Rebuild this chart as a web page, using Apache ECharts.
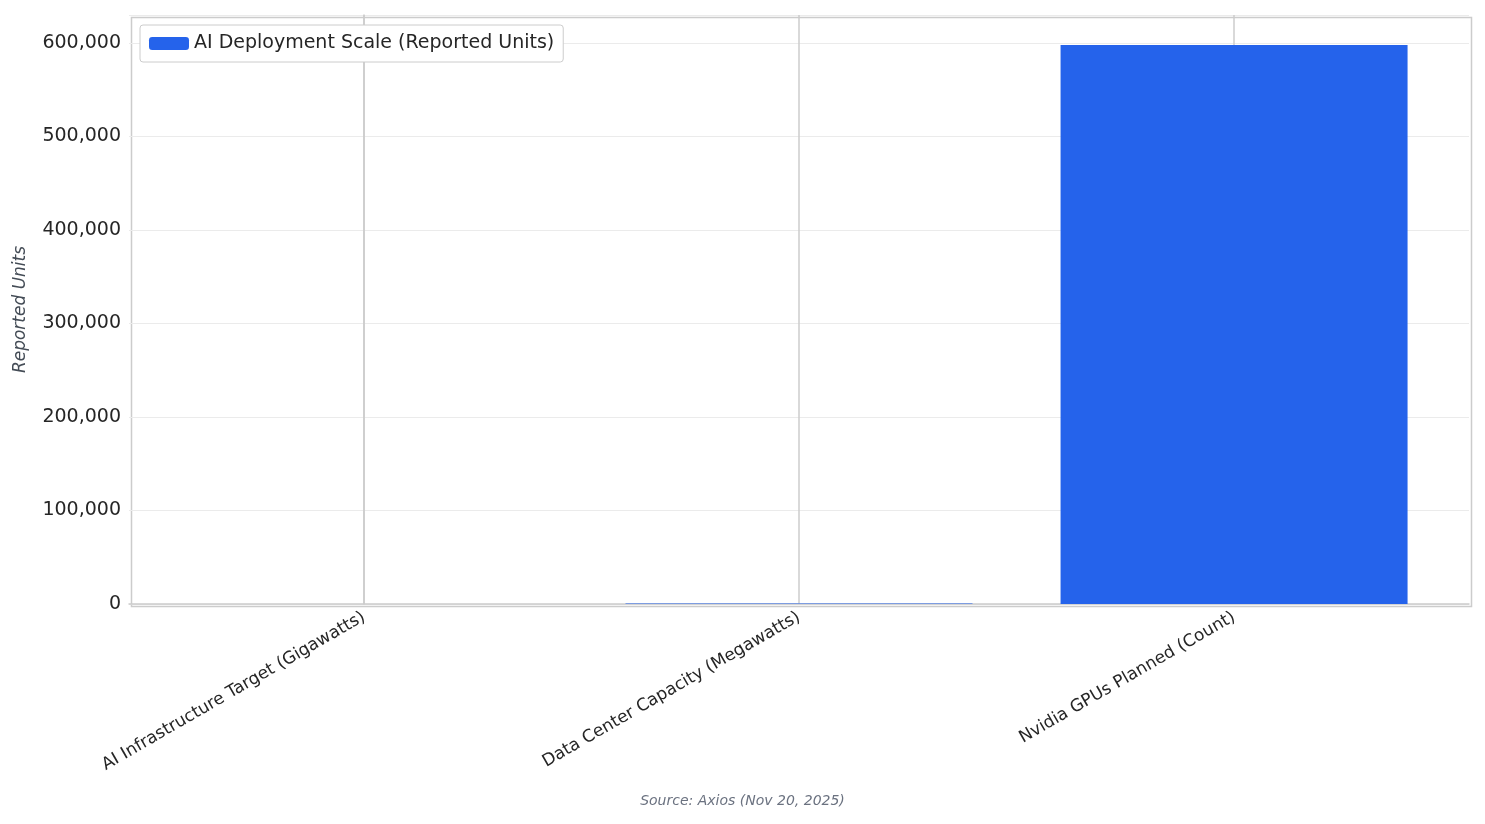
<!DOCTYPE html>
<html><head><meta charset="utf-8">
<script src="https://cdn.jsdelivr.net/npm/echarts@6/dist/echarts.min.js"></script>
<style>html,body{margin:0;padding:0;background:#fff}#c{width:1485px;height:824px}</style>
</head><body><div id="c"></div>
<script>
const categories = ["AI Infrastructure Target (Gigawatts)", "Data Center Capacity (Megawatts)", "Nvidia GPUs Planned (Count)"];
const values = [10, 500, 598000];
const yTicks = [0, 100000, 200000, 300000, 400000, 500000, 600000];

const chart = echarts.init(document.getElementById('c'));
const font = 'DejaVu Sans';
chart.setOption({
  animation: false,
  textStyle: { fontFamily: font },
  grid: { left: 129, right: 16, top: 15, bottom: 220, containLabel: false },
  legend: {
    left: 140, top: 25, itemWidth: 40, itemHeight: 13, padding: [9, 9, 9, 9],
    borderColor: '#cccccc', borderWidth: 1, borderRadius: 3, backgroundColor: '#fff',
    textStyle: { fontSize: 19, color: '#262626', fontFamily: font },
    data: ['AI Deployment Scale (Reported Units)']
  },
  xAxis: {
    type: 'value', min: -0.54, max: 2.54,
    axisLine: { show: true, onZero: false, lineStyle: { color: '#cccccc', width: 1.5 } },
    axisTick: { show: false },
    splitLine: { show: false },
    axisLabel: {
      customValues: [0, 1, 2], rotate: 30, fontSize: 17, color: '#262626', margin: 12,
      formatter: v => categories[Math.round(v)]
    }
  },
  yAxis: {
    type: 'value', min: 0, max: 630000, interval: 100000,
    name: 'Reported Units', nameLocation: 'middle', nameGap: 100, nameRotate: 90,
    nameTextStyle: { fontStyle: 'italic', fontSize: 17, color: '#444c56' },
    axisLine: { show: true, lineStyle: { color: '#cccccc', width: 1.5 } },
    axisTick: { show: false },
    axisLabel: { fontSize: 19, color: '#262626', margin: 8, showMaxLabel: false },
    splitLine: { lineStyle: { color: '#ebebeb', width: 1 } }
  },
  series: [{
    name: 'AI Deployment Scale (Reported Units)', type: 'bar',
    data: values.map((v, i) => [i, v]), barWidth: 347,
    itemStyle: { color: '#2563eb' },
    markLine: {
      silent: true, symbol: 'none', label: { show: false }, z: 1,
      lineStyle: { color: '#cccccc', type: 'solid', width: 1.5 },
      data: [{ xAxis: 0 }, { xAxis: 1 }, { xAxis: 2 }]
    }
  }],
  graphic: [
    { type: 'rect', left: 129, top: 15, shape: { width: 1340, height: 589 }, style: { fill: 'none', stroke: '#cccccc', lineWidth: 1.5 }, silent: true },
    { type: 'text', left: 'center', top: 794, style: { text: 'Source: Axios (Nov 20, 2025)', font: 'italic 14px DejaVu Sans', fill: '#6b7280' } }
  ]
});
</script></body></html>
